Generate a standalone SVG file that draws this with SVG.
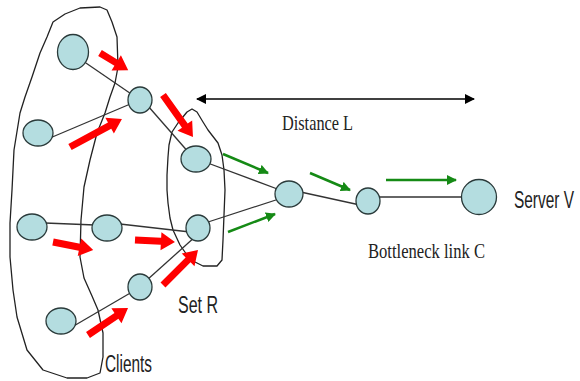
<svg xmlns="http://www.w3.org/2000/svg" width="580" height="381" viewBox="0 0 580 381">
<defs>
<style>
.blob{fill:none;stroke:#222;stroke-width:1.3;stroke-linejoin:round}
.edge{stroke:#333;stroke-width:1.3;fill:none}
.node{fill:#b4dde0;stroke:#2a3a3a;stroke-width:1.3}
.red{fill:#ff0000}
.grn{stroke:#158a15;stroke-width:2.5;fill:none}
.dist{stroke:#000;stroke-width:1.3;fill:none}
.sans{font-family:"Liberation Sans",Arial,sans-serif;font-size:16px;fill:#222}
.serif{font-family:"Liberation Serif","Times New Roman",serif;font-size:22px;fill:#222}
</style>
<marker id="gh" viewBox="0 0 10 10" refX="9" refY="5" markerWidth="10" markerHeight="10" markerUnits="userSpaceOnUse" orient="auto"><path d="M0,0 L10,5 L0,10 Z" fill="#158a15"/></marker>
<marker id="bh" viewBox="0 0 10 10" refX="9" refY="5" markerWidth="11" markerHeight="10" markerUnits="userSpaceOnUse" orient="auto-start-reverse"><path d="M0,0 L10,5 L0,10 Z" fill="#000"/></marker>
</defs>
<rect width="580" height="381" fill="#fff"/>

<g id="clients-region">
<path class="blob" d="M53,22 L65,14 L80,8 L100,7 L107,10 L112,22 L117,37 L118,67 L115,83 L110,97 L105,113 L97,133 L90,160 L84,187 L81,220 L80,257 L84,278 L92,296 L98,310 L103,333 L103,357 L100,373 L87,378 L67,378 L43,370 L27,350 L17,317 L13,290 L10,257 L10,223 L12,190 L14,150 L20,113 L25,97 L32,77 L40,53 L47,37 Z"/>
</g>
<g id="setR-region">
<path class="blob" d="M192,109 L187,112 L178,123 L172,132 L169,145 L168,157 L167,175 L167,190 L168,203 L170,218 L173,230 L180,245 L187,255 L195,262 L203,266 L217,266 L222,260 L223,240 L224,215 L225,190 L224,170 L222,155 L218,143 L208,130 L203,122 L197,112 Z"/>
</g>

<g id="connectors">
<line class="edge" x1="83" y1="61" x2="140" y2="100"/>
<line class="edge" x1="50" y1="138" x2="135" y2="102"/>
<line class="edge" x1="148" y1="106" x2="190" y2="154"/>
<line class="edge" x1="205" y1="162" x2="280" y2="190"/>
<line class="edge" x1="205" y1="223" x2="282" y2="198"/>
<line class="edge" x1="296" y1="191" x2="360" y2="205"/>
<line class="edge" x1="375" y1="197" x2="465" y2="197"/>
<line class="edge" x1="45" y1="223" x2="95" y2="225"/>
<line class="edge" x1="120" y1="224" x2="190" y2="232"/>
<line class="edge" x1="72" y1="327" x2="132" y2="292"/>
<line class="edge" x1="147" y1="280" x2="196" y2="236"/>
</g>

<g id="distance-arrow">
<line class="dist" x1="197" y1="99" x2="474" y2="99" marker-start="url(#bh)" marker-end="url(#bh)"/>
</g>

<g id="red-arrows">
<path class="red" transform="translate(100,53) rotate(31.3)" d="M0,-3.5 H19 V-9 L33,0 L19,9 V3.5 H0 Z"/>
<path class="red" transform="translate(70,147) rotate(-28.3)" d="M0,-3.5 H45 V-9 L59,0 L45,9 V3.5 H0 Z"/>
<path class="red" transform="translate(163,95) rotate(54.5)" d="M0,-3.5 H37.6 V-9 L51.6,0 L37.6,9 V3.5 H0 Z"/>
<path class="red" transform="translate(53,242) rotate(11.3)" d="M0,-3.5 H27 V-9 L41,0 L27,9 V3.5 H0 Z"/>
<path class="red" transform="translate(135,240) rotate(3)" d="M0,-3.5 H26 V-9 L40,0 L26,9 V3.5 H0 Z"/>
<path class="red" transform="translate(163,285) rotate(-45)" d="M0,-3.5 H35.5 V-9 L49.5,0 L35.5,9 V3.5 H0 Z"/>
<path class="red" transform="translate(88,335) rotate(-34)" d="M0,-3.5 H34.3 V-9 L48.3,0 L34.3,9 V3.5 H0 Z"/>
</g>

<g id="green-arrows">
<line class="grn" x1="223" y1="154" x2="268" y2="173" marker-end="url(#gh)"/>
<line class="grn" x1="228" y1="232" x2="275" y2="214" marker-end="url(#gh)"/>
<line class="grn" x1="310" y1="173" x2="350" y2="190" marker-end="url(#gh)"/>
<line class="grn" x1="386" y1="180" x2="456" y2="180" marker-end="url(#gh)"/>
</g>

<g id="node-a"><ellipse class="node" cx="73" cy="52" rx="15.5" ry="17.5"/></g>
<g id="node-b"><ellipse class="node" cx="38" cy="133" rx="15" ry="13"/></g>
<g id="node-c"><ellipse class="node" cx="140" cy="100" rx="12" ry="13"/></g>
<g id="node-d"><ellipse class="node" cx="196" cy="159" rx="15" ry="13"/></g>
<g id="node-e"><ellipse class="node" cx="289" cy="194" rx="14" ry="13"/></g>
<g id="node-f"><ellipse class="node" cx="368" cy="201" rx="12" ry="13"/></g>
<g id="node-server"><ellipse class="node" cx="479" cy="197" rx="17.5" ry="17.5"/></g>
<g id="node-g"><ellipse class="node" cx="32" cy="227" rx="15" ry="13"/></g>
<g id="node-h"><ellipse class="node" cx="107" cy="228" rx="15" ry="13"/></g>
<g id="node-i"><ellipse class="node" cx="198" cy="228" rx="12" ry="13"/></g>
<g id="node-j"><ellipse class="node" cx="140" cy="287" rx="12" ry="13"/></g>
<g id="node-k"><ellipse class="node" cx="61" cy="321" rx="15" ry="13"/></g>

<g id="labels">
<text class="serif" x="282" y="130" textLength="71" lengthAdjust="spacingAndGlyphs">Distance L</text>
<text class="serif" x="368" y="258" font-size="23" textLength="117" lengthAdjust="spacingAndGlyphs">Bottleneck link C</text>
<g transform="scale(1,1.5)">
<text class="sans" x="514" y="138.7" textLength="60" lengthAdjust="spacingAndGlyphs">Server V</text>
<text class="sans" x="178" y="208.7" textLength="40" lengthAdjust="spacingAndGlyphs">Set R</text>
<text class="sans" x="105" y="248" textLength="47" lengthAdjust="spacingAndGlyphs">Clients</text>
</g>
</g>
</svg>
